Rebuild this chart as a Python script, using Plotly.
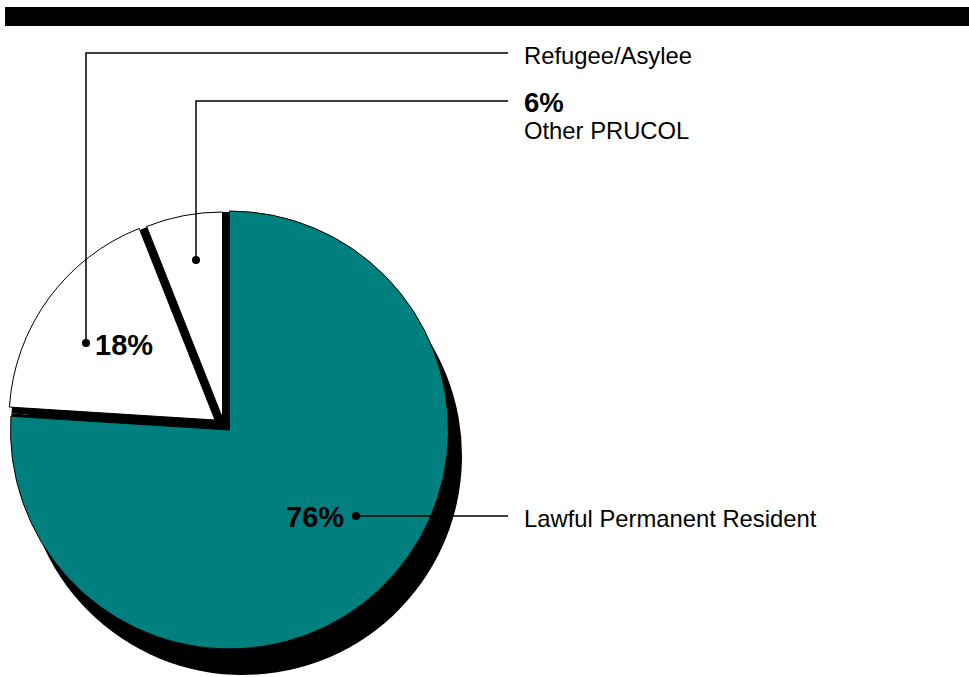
import plotly.graph_objects as go

# ---- data ----
labels = ["Lawful Permanent Resident", "Refugee/Asylee", "Other PRUCOL"]
values = [76, 18, 6]
teal = "#007f7f"

W, H = 969, 677


def px(x):
    return x / W


def py(y):
    return 1 - y / H


def dom(cx, cy, r):
    return dict(x=[(cx - r) / W, (cx + r) / W], y=[1 - (cy + r) / H, 1 - (cy - r) / H])


CLR = "rgba(0,0,0,0)"


def pie(colors, line_w, domain):
    return go.Pie(
        labels=labels, values=values, sort=False, direction="clockwise", rotation=0,
        marker=dict(colors=colors, line=dict(color="black", width=line_w)),
        textinfo="none", hoverinfo="skip", showlegend=False, domain=domain,
    )


fig = go.Figure()
# drop shadow
fig.add_trace(pie(["black"] * 3, [0, 0, 0], dom(243, 456, 219)))
# gap fill (shadow visible between exploded slices)
fig.add_trace(pie(["black"] * 3, [0, 0, 0], dom(226, 427, 215)))
# teal slice
fig.add_trace(pie([teal, CLR, CLR], [1, 0, 0], dom(229.5, 430, 219)))
# 18% slice
fig.add_trace(pie([CLR, "white", CLR], [0, 1, 0], dom(215, 420, 206)))
# 6% slice
fig.add_trace(pie([CLR, CLR, "white"], [0, 0, 1], dom(222.5, 418, 206)))

shapes = []
# top black bar
shapes.append(dict(type="rect", xref="paper", yref="paper", x0=px(5), x1=px(969),
                   y0=py(26), y1=py(7), fillcolor="black", line=dict(width=0), layer="above"))


def path(points):
    d = "M " + " L ".join(f"{px(x)},{py(y)}" for x, y in points)
    return dict(type="path", xref="paper", yref="paper", path=d,
                line=dict(color="black", width=1.5), layer="above")


def dot(x, y, r=4):
    return dict(type="circle", xref="paper", yref="paper", x0=px(x - r), x1=px(x + r),
                y0=py(y + r), y1=py(y - r), fillcolor="black", line=dict(width=0), layer="above")


shapes.append(path([(86, 343), (86, 53), (508, 53)]))
shapes.append(path([(196, 260), (196, 101), (508, 101)]))
shapes.append(path([(356, 516), (508, 516)]))
shapes += [dot(86, 343), dot(196, 260), dot(356, 516)]

FONT = "Liberation Sans, Arial, sans-serif"


def ann(x, y, text, size, anchor="left", bold=False):
    t = f"<b>{text}</b>" if bold else text
    return dict(x=px(x), y=py(y), xref="paper", yref="paper", text=t, showarrow=False,
                xanchor=anchor, yanchor="middle", font=dict(family=FONT, size=size, color="black"))


annotations = [
    ann(522, 55, labels[1], 23.8),
    ann(522, 102, f"{values[2]}%", 27.5, bold=True),
    ann(522, 130, labels[2], 23.8),
    ann(522, 518, labels[0], 23.8),
    ann(93, 345, f"{values[1]}%", 29, bold=True),
    ann(346, 517, f"{values[0]}%", 29, anchor="right", bold=True),
]

fig.update_layout(
    width=W, height=H, margin=dict(l=0, r=0, t=0, b=0),
    paper_bgcolor="white", plot_bgcolor="white",
    shapes=shapes, annotations=annotations,
)

fig.write_html("out.html", config={"displayModeBar": False},
               post_script="document.body.style.margin='0px';")
